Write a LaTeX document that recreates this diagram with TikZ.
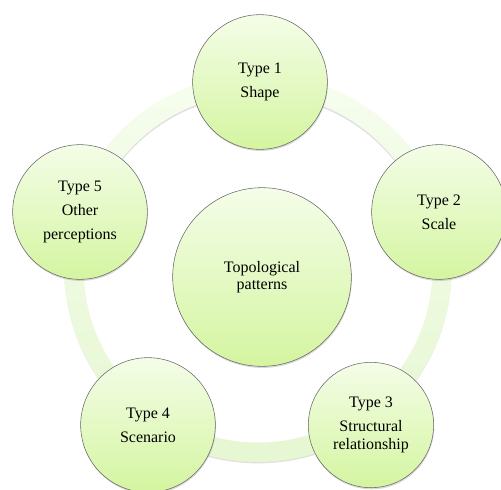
\documentclass[tikz,border=0pt]{standalone}
\usepackage{fontspec}
\setmainfont{Liberation Serif}
\usetikzlibrary{shadows}

\definecolor{palelime}{RGB}{244,253,232}
\definecolor{deeplime}{RGB}{212,245,160}
\definecolor{ringtop}{RGB}{246,253,238}
\definecolor{ringbot}{RGB}{230,247,210}

\begin{document}
\begin{tikzpicture}[x=0.75pt,y=-0.75pt,
    typecircle/.style={circle, draw=black!60, thin,
      top color=palelime, bottom color=deeplime,
      minimum size=#1, inner sep=0pt, align=center,
      font=\fontsize{12}{13.2}\selectfont,
      drop shadow={opacity=0.3, shadow xshift=0.4pt, shadow yshift=-1.2pt}},
    typecircle/.default=101pt]
	\useasboundingbox (0,0) rectangle (501,490);
	
	% ring behind the circles, with its soft shadow
	\coordinate (hub) at (258,268);
	\draw[line width=14pt, black, opacity=0.12] ([yshift=-1.5pt]hub) circle[radius=184];
	\path[even odd rule, top color=ringtop, bottom color=ringbot]
		(hub) circle[radius=194] (hub) circle[radius=174.5];
	
	\node[typecircle=134pt] (topo) at (262,277) {Topological\\patterns};
	
	\node[typecircle] (type1) at (260,82) {Type 1\\[4.8pt]Shape};
	\node[typecircle] (type2) at (439,212) {Type 2\\[4.8pt]Scale};
	\node[typecircle=94pt] (type3) at (371,425) {Type 3\\[4.8pt]Structural\\relationship};
	\node[typecircle] (type4) at (148,425) {Type 4\\[4.8pt]Scenario};
	\node[typecircle] (type5) at (80,212) {Type 5\\[4.8pt]Other\\[4.8pt]perceptions};
	
\end{tikzpicture}
\end{document}
